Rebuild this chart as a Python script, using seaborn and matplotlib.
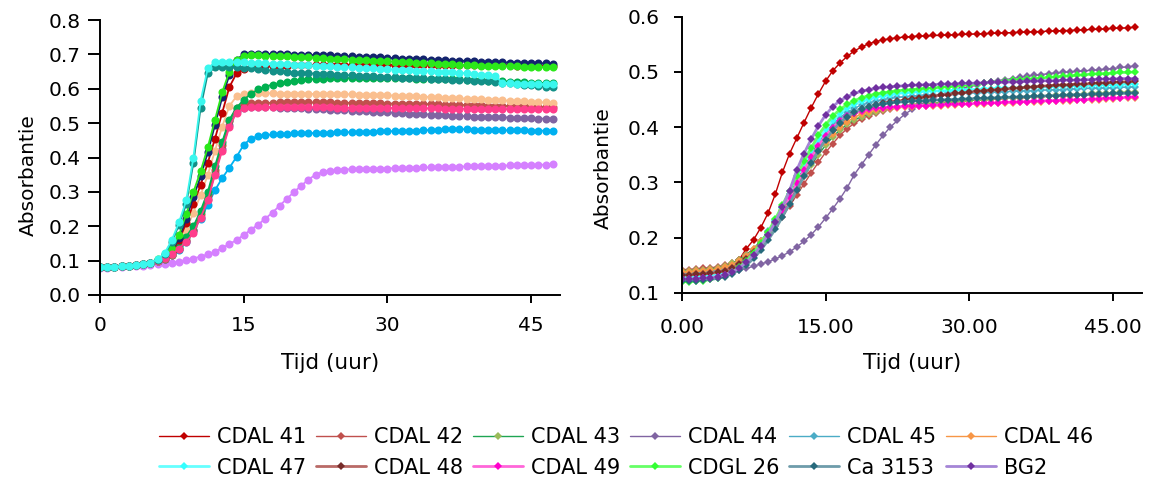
import matplotlib
matplotlib.use("Agg")
import matplotlib.pyplot as plt
from matplotlib.ticker import FormatStrFormatter, FixedLocator
import seaborn as sns

# ---------------- data ----------------
tijd = [0.0, 0.75, 1.5, 2.25, 3.0, 3.75, 4.5, 5.25, 6.0, 6.75, 7.5, 8.25, 9.0, 9.75,
        10.5, 11.25, 12.0, 12.75, 13.5, 14.25, 15.0, 15.75, 16.5, 17.25, 18.0, 18.75,
        19.5, 20.25, 21.0, 21.75, 22.5, 23.25, 24.0, 24.75, 25.5, 26.25, 27.0, 27.75,
        28.5, 29.25, 30.0, 30.75, 31.5, 32.25, 33.0, 33.75, 34.5, 35.25, 36.0, 36.75,
        37.5, 38.25, 39.0, 39.75, 40.5, 41.25, 42.0, 42.75, 43.5, 44.25, 45.0, 45.75,
        46.5, 47.25]

# left panel
links_teal = [.082, .082, .082, .083, .084, .086, .089, .094, .102, .118, .155, .205, .265, .385,
              .545, .645, .662, .664, .663, .662, .661, .659, .657, .655, .653, .651, .649, .647,
              .646, .645, .644, .643, .642, .641, .64, .639, .638, .637, .636, .635, .634, .633,
              .632, .631, .63, .63, .629, .628, .627, .626, .626, .625, .624, .623, .622, .62,
              .618, .616, .614, .612, .61, .608, .606, .605]
links_cyaan = [.082, .082, .082, .083, .084, .086, .089, .094, .104, .122, .16, .212, .275, .40,
               .565, .66, .677, .679, .679, .678, .677, .676, .675, .674, .673, .672, .671, .67,
               .669, .668, .667, .666, .665, .664, .663, .662, .661, .66, .659, .658, .657, .656,
               .655, .654, .653, .652, .651, .65, .649, .648, .647, .645, .643, .641, .639, .636,
               .618, .616, .615, .615, .614, .614, .613, .613]
links_marine = [.082, .082, .082, .083, .084, .086, .089, .094, .103, .113, .13, .165, .222, .285,
                .345, .415, .495, .575, .64, .685, .70, .702, .702, .701, .701, .70, .70, .699,
                .699, .698, .698, .697, .697, .696, .695, .694, .693, .692, .692, .691, .69, .689,
                .688, .688, .687, .686, .685, .684, .683, .682, .682, .681, .68, .679, .678, .678,
                .677, .676, .676, .675, .675, .674, .674, .673]
links_felgroen = [.082, .082, .082, .083, .084, .086, .089, .094, .105, .116, .135, .175, .235, .30,
                  .36, .43, .51, .59, .65, .685, .695, .697, .697, .696, .695, .694, .694, .693,
                  .692, .691, .69, .689, .688, .687, .686, .685, .684, .683, .682, .681, .68, .679,
                  .678, .677, .676, .675, .674, .673, .672, .671, .67, .669, .668, .667, .667, .666,
                  .666, .665, .665, .664, .664, .663, .663, .662]
links_rood = [.082, .082, .082, .083, .084, .086, .089, .094, .102, .11, .125, .16, .21, .265,
              .32, .385, .455, .53, .605, .645, .658, .662, .664, .665, .666, .667, .667, .668,
              .668, .669, .669, .669, .67, .67, .67, .67, .67, .67, .67, .67, .67, .67,
              .67, .67, .67, .67, .67, .669, .669, .669, .669, .669, .668, .668, .668, .668,
              .668, .668, .667, .667, .667, .667, .667, .667]
links_oranje = [.082, .082, .082, .083, .084, .086, .089, .094, .10, .108, .12, .15, .19, .24,
                .29, .35, .42, .49, .55, .578, .585, .587, .587, .587, .587, .586, .586, .586,
                .586, .585, .585, .585, .585, .584, .584, .584, .583, .583, .582, .582, .581, .58,
                .58, .579, .578, .577, .576, .575, .574, .573, .572, .571, .57, .569, .568, .567,
                .566, .565, .564, .563, .562, .561, .56, .559]
links_steenrood = [.082, .082, .082, .083, .084, .086, .089, .094, .099, .105, .115, .135, .16, .19,
                   .235, .29, .365, .435, .505, .545, .555, .558, .559, .559, .559, .56, .56, .56,
                   .56, .56, .56, .56, .56, .559, .559, .559, .559, .558, .558, .558, .557, .557,
                   .557, .556, .556, .556, .555, .555, .554, .554, .553, .553, .552, .552, .551, .551,
                   .55, .55, .549, .549, .548, .548, .547, .547]
links_roze = [.082, .082, .082, .083, .084, .086, .089, .094, .10, .107, .118, .135, .155, .18,
              .225, .275, .35, .42, .49, .53, .543, .546, .547, .547, .547, .547, .547, .547,
              .546, .546, .546, .546, .546, .545, .545, .545, .545, .545, .544, .544, .544, .544,
              .544, .543, .543, .543, .543, .543, .542, .542, .542, .542, .542, .541, .541, .541,
              .541, .541, .54, .54, .54, .54, .54, .54]
links_paars = [.082, .082, .082, .083, .084, .086, .089, .094, .099, .105, .115, .134, .158, .185,
               .228, .28, .355, .425, .495, .535, .545, .547, .547, .546, .546, .545, .545, .544,
               .543, .542, .541, .54, .539, .538, .537, .536, .535, .534, .533, .532, .531, .53,
               .529, .528, .527, .526, .525, .524, .523, .522, .521, .52, .519, .518, .518, .517,
               .517, .516, .515, .515, .514, .513, .513, .512]
links_groen = [.082, .082, .082, .083, .084, .086, .089, .094, .10, .107, .12, .14, .17, .20,
               .245, .30, .375, .445, .51, .545, .568, .585, .598, .606, .612, .616, .62, .623,
               .625, .627, .628, .629, .63, .63, .631, .631, .631, .631, .631, .631, .63, .63,
               .63, .63, .629, .629, .629, .628, .628, .627, .627, .626, .626, .625, .624, .623,
               .622, .621, .62, .619, .618, .617, .617, .616]
links_hemelsblauw = [.082, .082, .082, .083, .084, .086, .089, .094, .10, .106, .115, .13, .155, .19,
                     .222, .262, .305, .34, .37, .402, .437, .455, .462, .465, .467, .468, .469, .47,
                     .47, .471, .471, .472, .472, .473, .473, .474, .474, .475, .475, .476, .476, .477,
                     .477, .478, .478, .479, .48, .481, .482, .483, .483, .482, .481, .48, .48, .479,
                     .479, .479, .479, .479, .478, .478, .478, .478]
links_lila = [.08, .08, .081, .082, .083, .084, .085, .087, .089, .091, .094, .097, .101, .106,
              .112, .118, .126, .137, .148, .16, .175, .19, .205, .222, .24, .26, .28, .30,
              .318, .336, .35, .358, .362, .364, .365, .366, .366, .367, .367, .368, .368, .369,
              .369, .37, .37, .371, .371, .372, .372, .373, .373, .374, .374, .375, .375, .376,
              .376, .377, .377, .378, .378, .379, .379, .38]

links_reeksen = [links_lila, links_hemelsblauw, links_paars, links_steenrood, links_oranje,
                 links_groen, links_rood, links_marine, links_felgroen, links_roze,
                 links_teal, links_cyaan]
links_kleuren = ["#D580FF", "#00B0F0", "#8064A2", "#C0504D", "#FABF8F",
                 "#00B050", "#C00000", "#14246E", "#2BE81A", "#FF3D8B",
                 "#139088", "#3AF7EE"]

# right panel
cdal41 = [.135, .136, .137, .138, .14, .142, .146, .152, .16, .18, .196, .218, .244, .278,
          .318, .352, .38, .408, .435, .46, .483, .502, .516, .528, .538, .545, .551, .555,
          .558, .56, .562, .563, .564, .565, .565, .566, .566, .567, .567, .568, .568, .569,
          .569, .57, .57, .571, .571, .572, .572, .573, .573, .574, .574, .575, .575, .576,
          .576, .577, .577, .578, .579, .579, .58, .581]
cdal42 = [.142, .142, .143, .144, .145, .147, .15, .154, .16, .168, .178, .19, .204, .22,
          .238, .257, .277, .297, .317, .336, .354, .37, .385, .397, .407, .415, .421, .426,
          .43, .433, .436, .438, .44, .441, .442, .443, .444, .445, .446, .447, .448, .449,
          .45, .451, .451, .452, .453, .453, .454, .455, .455, .456, .456, .457, .457, .458,
          .458, .459, .459, .46, .46, .461, .461, .462]
cdal43 = [.14, .14, .141, .142, .143, .145, .148, .153, .16, .169, .18, .194, .21, .228,
          .248, .269, .29, .311, .331, .35, .367, .382, .395, .405, .413, .419, .424, .428,
          .431, .434, .436, .438, .44, .441, .442, .443, .444, .445, .446, .447, .448, .449,
          .45, .451, .452, .453, .453, .454, .455, .456, .456, .457, .458, .458, .459, .459,
          .46, .461, .461, .462, .462, .463, .463, .464]
cdal44 = [.13, .13, .131, .132, .133, .134, .136, .138, .141, .144, .148, .152, .156, .161,
          .167, .174, .183, .193, .205, .219, .235, .252, .27, .29, .314, .332, .35, .368,
          .385, .40, .412, .423, .432, .44, .447, .453, .458, .463, .467, .47, .473, .476,
          .479, .482, .484, .486, .488, .49, .492, .494, .495, .497, .498, .499, .5, .501,
          .502, .503, .504, .505, .506, .508, .509, .511]
cdal45 = [.136, .136, .137, .138, .139, .141, .144, .149, .156, .166, .178, .193, .211, .232,
          .255, .279, .304, .328, .351, .372, .39, .405, .417, .427, .434, .44, .444, .447,
          .45, .452, .454, .455, .456, .457, .458, .459, .459, .46, .46, .461, .462, .462,
          .463, .463, .464, .464, .465, .465, .466, .466, .467, .467, .468, .468, .469, .469,
          .47, .47, .47, .471, .471, .472, .472, .473]
cdal46 = [.138, .138, .139, .14, .141, .143, .146, .151, .158, .167, .179, .193, .209, .228,
          .249, .271, .294, .316, .337, .356, .373, .388, .40, .41, .418, .424, .428, .431,
          .433, .434, .435, .436, .437, .438, .438, .439, .439, .44, .44, .441, .441, .442,
          .442, .443, .443, .444, .444, .445, .445, .446, .446, .447, .447, .448, .448, .449,
          .449, .45, .45, .451, .451, .452, .452, .453]
cdal47 = [.128, .128, .129, .13, .131, .133, .136, .141, .149, .159, .172, .188, .207, .229,
          .253, .279, .305, .331, .355, .377, .396, .412, .425, .435, .442, .447, .451, .454,
          .457, .459, .461, .462, .463, .464, .465, .465, .466, .466, .467, .467, .468, .468,
          .469, .469, .47, .47, .471, .471, .472, .472, .473, .473, .474, .474, .475, .475,
          .475, .476, .476, .476, .477, .477, .478, .478]
cdal48 = [.132, .132, .133, .134, .135, .137, .14, .145, .152, .161, .173, .188, .205, .224,
          .245, .268, .292, .315, .338, .36, .379, .395, .408, .418, .426, .432, .436, .44,
          .443, .445, .447, .449, .451, .453, .455, .456, .458, .459, .461, .462, .463, .465,
          .466, .467, .468, .469, .47, .471, .472, .473, .474, .475, .476, .476, .477, .478,
          .478, .479, .48, .48, .481, .482, .482, .483]
cdal49 = [.124, .124, .125, .126, .127, .129, .132, .137, .145, .155, .168, .184, .203, .224,
          .248, .273, .298, .322, .345, .366, .384, .399, .411, .42, .426, .43, .432, .434,
          .435, .436, .437, .438, .438, .439, .439, .44, .44, .441, .441, .442, .442, .443,
          .443, .444, .444, .445, .445, .446, .446, .447, .447, .448, .448, .449, .449, .45,
          .45, .451, .451, .452, .452, .453, .454, .455]
cdgl26 = [.12, .12, .121, .122, .124, .127, .131, .137, .146, .158, .172, .19, .21, .233,
          .258, .285, .312, .338, .362, .385, .404, .42, .432, .441, .448, .453, .457, .46,
          .462, .464, .466, .467, .468, .469, .47, .471, .472, .473, .474, .476, .477, .478,
          .479, .481, .482, .483, .485, .486, .487, .488, .489, .49, .491, .492, .493, .494,
          .495, .496, .497, .497, .498, .499, .499, .5]
ca3153 = [.122, .122, .122, .123, .124, .126, .129, .134, .141, .15, .162, .177, .195, .215,
          .237, .261, .286, .311, .335, .357, .377, .394, .408, .419, .427, .433, .437, .44,
          .442, .444, .445, .446, .447, .448, .448, .449, .449, .45, .45, .451, .451, .452,
          .452, .453, .453, .454, .454, .455, .455, .456, .456, .457, .457, .458, .458, .459,
          .459, .46, .46, .46, .461, .461, .461, .462]
bg2 = [.125, .125, .125, .126, .127, .129, .132, .137, .145, .155, .168, .185, .205, .228,
       .255, .285, .322, .352, .378, .402, .422, .437, .448, .455, .461, .465, .468, .47,
       .472, .473, .474, .475, .476, .476, .477, .477, .478, .478, .478, .479, .479, .48,
       .48, .481, .481, .481, .482, .482, .483, .483, .484, .484, .484, .485, .485, .485,
       .486, .486, .487, .487, .487, .488, .488, .488]

stammen = ["CDAL 41", "CDAL 42", "CDAL 43", "CDAL 44", "CDAL 45", "CDAL 46",
           "CDAL 47", "CDAL 48", "CDAL 49", "CDGL 26", "Ca 3153", "BG2"]
rechts_reeksen = [cdal41, cdal42, cdal43, cdal44, cdal45, cdal46,
                  cdal47, cdal48, cdal49, cdgl26, ca3153, bg2]
lijnkleuren = ["#C00000", "#C0504D", "#1FA553", "#8064A2", "#4BACC6", "#F79646",
               "#66FFFF", "#B96A67", "#FF66D9", "#66FF66", "#6E9CAA", "#A585D6"]
markerkleuren = ["#C00000", "#C0504D", "#9BBB59", "#8064A2", "#4BACC6", "#F79646",
                 "#33FFFF", "#772C2A", "#FF00CC", "#33FF33", "#276A7C", "#7030A0"]
lijndiktes = [1.0, 1.0, 1.0, 1.0, 1.0, 1.0, 2.0, 2.0, 2.0, 2.0, 2.0, 2.0]

for s in links_reeksen + rechts_reeksen:
    assert len(s) == len(tijd), len(s)

# ---------------- style ----------------
sns.set_theme(style="ticks")
plt.rcParams["font.family"] = ["DejaVu Sans"]
plt.rcParams["axes.linewidth"] = 1.4
plt.rcParams["axes.edgecolor"] = "black"
plt.rcParams["text.color"] = "black"
plt.rcParams["axes.labelcolor"] = "black"

fig = plt.figure(figsize=(11.53, 5.0), dpi=100)
ax1 = fig.add_axes([100 / 1153, 1 - 295 / 500, 460 / 1153, 275 / 500])
ax2 = fig.add_axes([681.7 / 1153, 1 - 292.7 / 500, 460.3 / 1153, 276 / 500])

for vals, kleur in zip(links_reeksen, links_kleuren):
    sns.lineplot(x=tijd, y=vals, ax=ax1, color=kleur, linewidth=1.3, marker="o",
                 markersize=5.8, markeredgewidth=0, legend=False)

for naam, vals, lk, mk, lw in zip(stammen, rechts_reeksen, lijnkleuren, markerkleuren, lijndiktes):
    sns.lineplot(x=tijd, y=vals, ax=ax2, color=lk, linewidth=lw, marker="D",
                 markersize=4.5, markeredgewidth=0, markerfacecolor=mk,
                 label=naam, legend=False)

for ax in (ax1, ax2):
    sns.despine(ax=ax)
    ax.set_xlim(0, 48)
    ax.xaxis.set_major_locator(FixedLocator([0, 15, 30, 45]))
    ax.tick_params(axis="both", colors="black", labelsize=14.5, width=1.4, length=6)
    ax.set_xlabel("Tijd (uur)", fontsize=15.5, color="black", va="center")
    ax.set_ylabel("Absorbantie", fontsize=14.5, color="black", va="center")

ax1.set_ylim(0, 0.8)
ax1.yaxis.set_major_locator(FixedLocator([0, .1, .2, .3, .4, .5, .6, .7, .8]))
ax1.yaxis.set_major_formatter(FormatStrFormatter("%.1f"))
ax1.tick_params(axis="y", length=9, pad=5)
ax1.tick_params(axis="x", pad=9)
ax1.xaxis.set_label_coords(0.5, (295 - 363) / 275)
ax1.yaxis.set_label_coords((28 - 100) / 460, (295 - 175) / 275)

ax2.set_ylim(0.1, 0.6)
ax2.yaxis.set_major_locator(FixedLocator([.1, .2, .3, .4, .5, .6]))
ax2.yaxis.set_major_formatter(FormatStrFormatter("%.1f"))
ax2.xaxis.set_major_formatter(FormatStrFormatter("%.2f"))
ax2.tick_params(axis="y", pad=10)
ax2.tick_params(axis="x", pad=12)
ax2.xaxis.set_label_coords(0.5, (292.7 - 363) / 276)
ax2.yaxis.set_label_coords((603 - 681.7) / 460.3, (292.7 - 168) / 276)

h, l = ax2.get_legend_handles_labels()
volgorde = [0, 6, 1, 7, 2, 8, 3, 9, 4, 10, 5, 11]
leg = fig.legend([h[i] for i in volgorde], [l[i] for i in volgorde], loc="center",
                 bbox_to_anchor=(0.543, 0.095), ncol=6, frameon=False, fontsize=15,
                 handlelength=2.4, handletextpad=0.4, columnspacing=0.45, labelspacing=0.5)
for t in leg.get_texts():
    t.set_color("black")

fig.savefig("out.png", dpi=100)
